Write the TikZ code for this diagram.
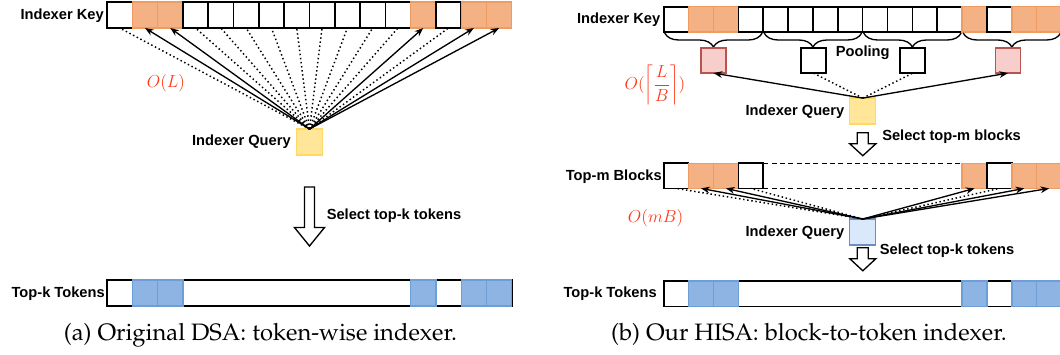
\RequirePackage{fix-cm}
\documentclass[tikz,border=0pt]{standalone}
\usepackage[T1]{fontenc}
\usepackage{fontspec}
\setmainfont{Liberation Sans}
\usetikzlibrary{arrows.meta,decorations.pathreplacing}

\definecolor{orfill}{HTML}{F4B183}
\definecolor{ordraw}{HTML}{EE9C62}
\definecolor{blfill}{HTML}{8DB4E2}
\definecolor{bldraw}{HTML}{6D9ED6}
\definecolor{yefill}{HTML}{FFE699}
\definecolor{yedraw}{HTML}{FFD966}
\definecolor{pkfill}{HTML}{F8CECC}
\definecolor{pkdraw}{HTML}{B85450}
\definecolor{lbfill}{HTML}{DAE8FC}
\definecolor{lbdraw}{HTML}{6C8EBF}
\definecolor{mathred}{HTML}{FF3617}

\newcommand\capfont{\fontencoding{T1}\fontfamily{ppl}\selectfont\fontsize{17.8}{21}\selectfont}

\begin{document}
\begin{tikzpicture}[x=0.75pt,y=-0.75pt,
  lab/.style={font=\bfseries\fontsize{11}{13}\selectfont, inner sep=0pt},
  mlab/.style={text=mathred, font=\fontsize{13}{15}\selectfont, inner sep=0pt},
  capl/.style={font=\capfont, inner sep=0pt},
  boxbase/.style={inner sep=0pt, outer sep=0pt},
  wcL/.style={boxbase, draw=black, line width=1.2pt, minimum width=18.98pt, minimum height=19.5pt},
  ocL/.style={boxbase, draw=ordraw, fill=orfill, line width=1pt, minimum width=18.98pt, minimum height=19.5pt},
  bcL/.style={boxbase, draw=bldraw, fill=blfill, line width=1pt, minimum width=18.98pt, minimum height=19.5pt},
  wcR/.style={boxbase, draw=black, line width=1.2pt, minimum width=18.65pt, minimum height=18.9pt},
  ocR/.style={boxbase, draw=ordraw, fill=orfill, line width=1pt, minimum width=18.65pt, minimum height=18.9pt},
  bcR/.style={boxbase, draw=bldraw, fill=blfill, line width=1pt, minimum width=18.65pt, minimum height=19pt},
  barbox/.style={boxbase, draw=black, line width=1.2pt},
  qbox/.style={boxbase, line width=1pt, minimum size=19.5pt},
  pbox/.style={boxbase, line width=1.2pt, minimum size=18.75pt},
  dotl/.style={dotted, line width=1.1pt},
  arr/.style={line width=1pt, -{Stealth[length=6.5pt,width=5pt]}},
  dsh/.style={line width=1pt, dash pattern=on 3.75pt off 2.5pt},
  brc/.style={decorate, decoration={brace, mirror, amplitude=10.5pt}, line width=1pt},
  hollow/.style={draw=black, fill=white, line width=1pt, line join=miter}
]
\useasboundingbox (0,0) rectangle (1060,354);

% ================= Left panel =================
\foreach \i/\s in {0/wcL,1/ocL,2/ocL,3/wcL,4/wcL,5/wcL,6/wcL,7/wcL,8/wcL,9/wcL,10/wcL,11/wcL,12/ocL,13/wcL,14/ocL,15/ocL}
  \node[\s] (lk\i) at ({119.65+25.3*\i},15) {};
\node[lab, anchor=east] (lkeylab) at (104,16) {Indexer Key};

\node[qbox, fill=yefill, draw=yedraw] (lq) at (309.5,142) {};
\node[lab, anchor=east] (lqlab) at (291,142) {Indexer Query};

\foreach \i in {0,3,4,5,6,7,8,9,10,11,13}
  \draw[dotl] (lq.north) -- (lk\i.south);
\foreach \i in {1,2,12,14,15}
  \draw[arr] (lq.north) -- (lk\i.south);

\node[mlab] (lol) at (166,83) {$O(L)$};

\draw[hollow] (304.5,187) -- (314.5,187) -- (314.5,227.5) -- (324.5,227.5) -- (309.5,246)
  -- (294.5,227.5) -- (304.5,227.5) -- cycle;
\node[lab, anchor=west] (lsel) at (326.5,216) {Select top-k tokens};

\node[barbox, minimum width=303.75pt, minimum height=19.5pt] (ltk) at (309.5,293) {};
\foreach \i in {1,2,12,14,15}
  \node[bcL] (lt\i) at ({119.65+25.3*\i},293) {};
\node[lab, anchor=east] (ltklab) at (105,294) {Top-k Tokens};

\node[capl, anchor=base] (capa) at (260.5,340.5) {(a) Original DSA: token-wise indexer.};

% ================= Right panel =================
\foreach \i/\s in {0/wcR,1/ocR,2/ocR,3/wcR,4/wcR,5/wcR,6/wcR,7/wcR,8/wcR,9/wcR,10/wcR,11/wcR,12/ocR,13/wcR,14/ocR,15/ocR}
  \node[\s] (rk\i) at ({676.135+24.87*\i},19.4) {};
\node[lab, anchor=east] (rkeylab) at (660.5,20) {Indexer Key};

\foreach \g in {0,1,2,3}
  \draw[brc] ({664.7+99.48*\g},33) -- ({762.2+99.48*\g},33);

\node[pbox, fill=pkfill, draw=pkdraw] (rp1) at (713.6,60.6) {};
\node[pbox, fill=white, draw=black] (rp2) at (813.4,60.6) {};
\node[pbox, fill=white, draw=black] (rp3) at (912.7,60.6) {};
\node[pbox, fill=pkfill, draw=pkdraw] (rp4) at (1008,60.6) {};
\node[lab] (pool) at (862.7,53) {Pooling};

\node[qbox, fill=yefill, draw=yedraw] (rq) at (862.8,111.1) {};
\node[lab, anchor=east] (rqlab) at (844.5,111.7) {Indexer Query};
\draw[dotl] (rq.north) -- (rp2.south);
\draw[dotl] (rq.north) -- (rp3.south);
\draw[arr] (rq.north) -- (rp1.south);
\draw[arr] (rq.north) -- (rp4.south);

\node[mlab] (rol) at (655,85) {$O(\left\lceil\displaystyle\frac{L}{B}\right\rceil)$};

\draw[hollow] (857.3,132.7) -- (868.3,132.7) -- (868.3,143.8) -- (875.8,143.8) -- (862.8,155.7)
  -- (849.8,143.8) -- (857.3,143.8) -- cycle;
\node[lab, anchor=west] (rsel1) at (882,137) {Select top-m blocks};

\foreach \i/\s in {0/wcR,1/ocR,2/ocR,3/wcR,12/ocR,13/wcR,14/ocR,15/ocR}
  \node[\s] (rm\i) at ({676.135+24.87*\i},175.8) {};
\draw[dsh] (rm3.north east) -- (rm12.north west);
\draw[dsh] (rm3.south east) -- (rm12.south west);
\node[lab, anchor=east] (rmlab) at (662,176.5) {Top-m Blocks};

\node[qbox, fill=lbfill, draw=lbdraw] (rq2) at (862.8,232) {};
\node[lab, anchor=east] (rq2lab) at (844.5,232.6) {Indexer Query};
\foreach \i in {0,3,13}
  \draw[dotl] (rq2.north) -- (rm\i.south);
\foreach \i in {1,2,12,14,15}
  \draw[arr] (rq2.north) -- (rm\i.south);

\node[mlab] (rom) at (655.6,218.4) {$O(mB)$};

\draw[hollow] (857.3,247.8) -- (868.3,247.8) -- (868.3,258.7) -- (875.8,258.7) -- (862.8,270.8)
  -- (849.8,258.7) -- (857.3,258.7) -- cycle;
\node[lab, anchor=west] (rsel2) at (879.6,251) {Select top-k tokens};

\node[barbox, minimum width=298.4pt, minimum height=19pt] (rtk) at (862.65,293.7) {};
\foreach \i in {1,2,12,14,15}
  \node[bcR] (rt\i) at ({676.135+24.87*\i},293.7) {};
\node[lab, anchor=east] (rtklab) at (657,294) {Top-k Tokens};

\node[capl, anchor=base] (capb) at (809,340.5) {(b) Our HISA: block-to-token indexer.};
\end{tikzpicture}
\end{document}
